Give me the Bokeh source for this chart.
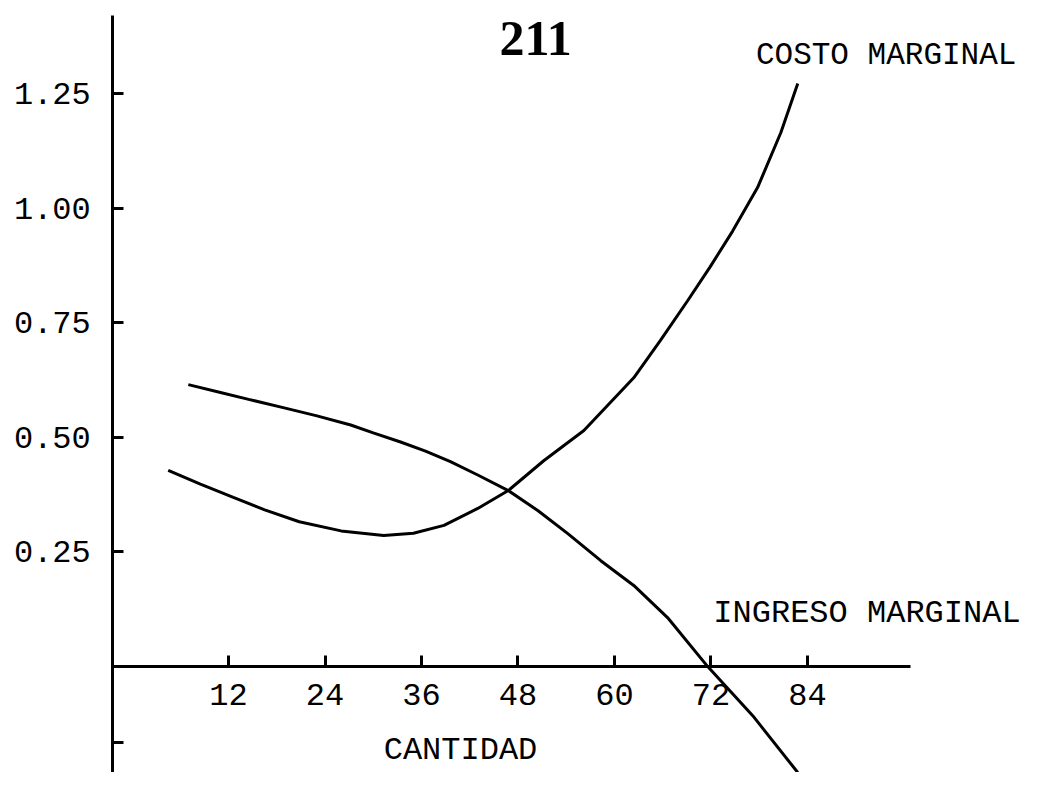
from bokeh.plotting import figure
from bokeh.models import Range1d, FixedTicker, PrintfTickFormatter
from bokeh.core.properties import value
from bokeh.embed import file_html
from bokeh.resources import INLINE

# Data
cantidad_ticks = [12, 24, 36, 48, 60, 72, 84]
precio_ticks = [-0.165, 0.25, 0.50, 0.75, 1.00, 1.25]

costo_x = [4.5, 8.5, 12.6, 16.5, 20.8, 26.0, 31.3, 35.0, 38.8, 43.0, 46.8, 51.2, 56.2, 62.4, 65.7, 69.1, 71.9, 74.7, 77.8, 80.7, 82.8]
costo_y = [0.428, 0.398, 0.369, 0.342, 0.316, 0.296, 0.286, 0.291, 0.308, 0.345, 0.384, 0.449, 0.515, 0.630, 0.711, 0.798, 0.872, 0.950, 1.045, 1.165, 1.272]

ingreso_x = [7.0, 11.0, 14.5, 18.8, 23.0, 27.2, 30.0, 33.4, 36.5, 39.6, 43.0, 46.8, 50.5, 54.2, 58.3, 62.4, 66.6, 71.6, 77.2, 82.8]
ingreso_y = [0.615, 0.598, 0.583, 0.565, 0.547, 0.527, 0.510, 0.490, 0.470, 0.447, 0.418, 0.384, 0.340, 0.290, 0.231, 0.177, 0.107, 0.000, -0.107, -0.231]

titulo = "211"
etiqueta_costo = "COSTO MARGINAL"
etiqueta_ingreso = "INGRESO MARGINAL"
etiqueta_eje_x = "CANTIDAD"

FONT = "Liberation Mono"

p = figure(width=1024, height=772, output_backend="svg", toolbar_location=None,
           x_range=Range1d(-16.36, 111.0), y_range=Range1d(-0.231, 1.453),
           min_border=0, min_border_left=0, min_border_right=0,
           min_border_top=0, min_border_bottom=0)
p.outline_line_color = None
p.grid.visible = False
p.background_fill_color = "white"
p.border_fill_color = "white"

# axes crossing inside the plot
p.xaxis.fixed_location = 0
p.yaxis.fixed_location = -2.4
p.xaxis.bounds = (-2.4, 96.8)
p.yaxis.bounds = (-0.27, 1.42)

p.xaxis.ticker = FixedTicker(ticks=cantidad_ticks)
p.yaxis.ticker = FixedTicker(ticks=precio_ticks)
p.yaxis.formatter = PrintfTickFormatter(format="%.2f")
p.yaxis.major_label_overrides = {-0.165: ""}

for ax in (p.xaxis[0], p.yaxis[0]):
    ax.axis_line_color = "black"
    ax.axis_line_width = 3
    ax.major_tick_line_color = "black"
    ax.major_tick_line_width = 3
    ax.major_tick_in = 11
    ax.major_tick_out = 0
    ax.minor_tick_line_color = None
    ax.major_label_text_font = FONT
    ax.major_label_text_font_size = "32px"
    ax.major_label_text_color = "black"

p.xaxis.major_label_standoff = 17
p.yaxis.major_label_standoff = 22

p.line(costo_x, costo_y, line_color="black", line_width=3)
p.line(ingreso_x, ingreso_y, line_color="black", line_width=3)

p.text(x=[77.6], y=[1.333], text=[etiqueta_costo], text_font=value(FONT),
       text_font_size="31px", text_baseline="middle", text_align="left", text_color="black")
p.text(x=[72.3], y=[0.116], text=[etiqueta_ingreso], text_font=value(FONT),
       text_font_size="32px", text_baseline="middle", text_align="left", text_color="black")
p.text(x=[31.3], y=[-0.183], text=[etiqueta_eje_x], text_font=value(FONT),
       text_font_size="32px", text_baseline="middle", text_align="left", text_color="black")
p.text(x=[50.2], y=[1.37], text=[titulo], text_font=value("Liberation Serif"),
       text_font_size="50px", text_font_style="bold", text_baseline="middle",
       text_align="center", text_color="black")

open("out.html", "w").write(file_html(p, INLINE))
